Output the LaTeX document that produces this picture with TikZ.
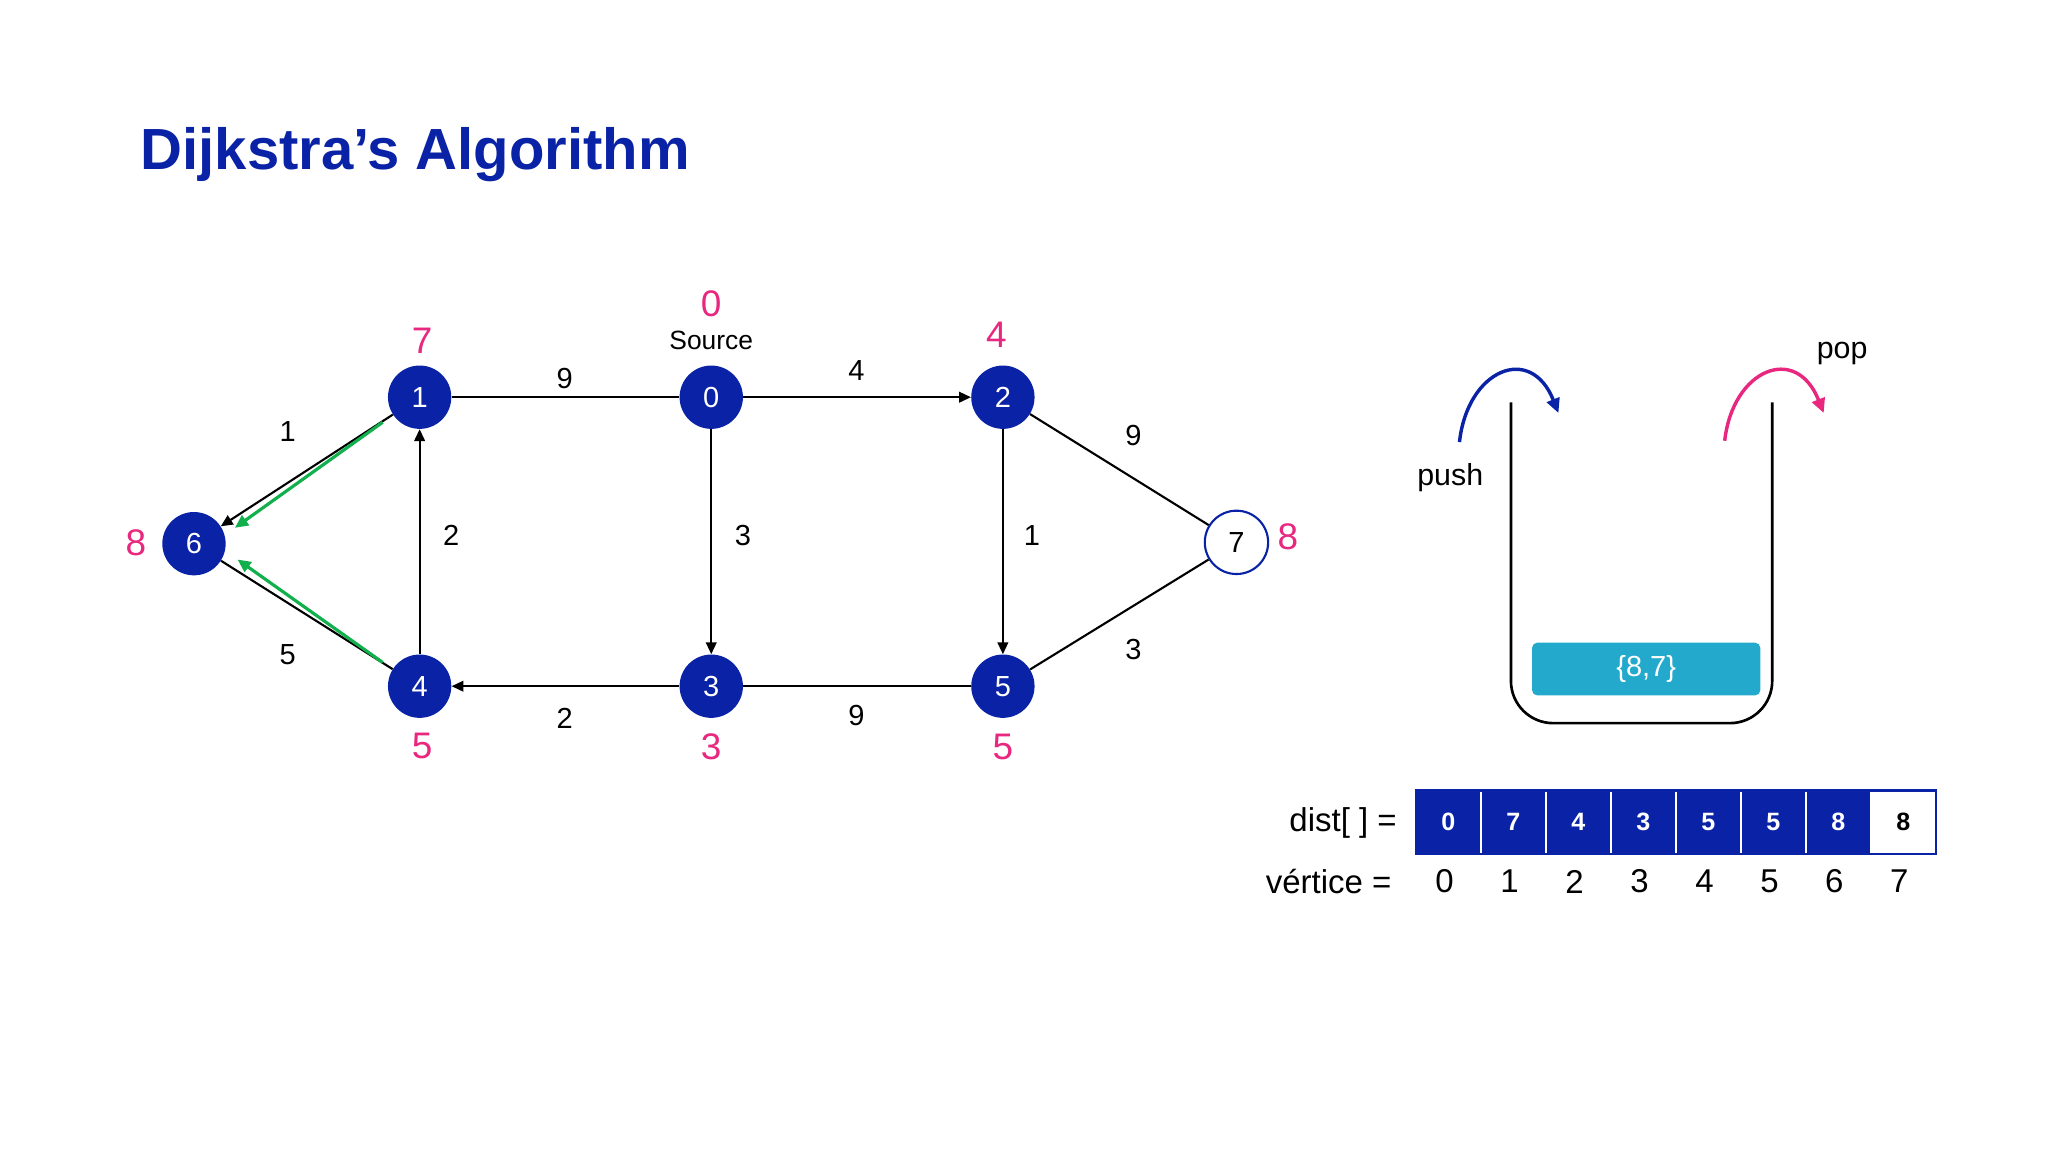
\documentclass[tikz,border=0pt]{standalone}
\usepackage{fontspec}
\setmainfont{Liberation Sans}
\usetikzlibrary{arrows.meta}
\definecolor{nblue}{HTML}{0A23A6}
\definecolor{npink}{HTML}{E8277E}
\definecolor{ngreen}{HTML}{12B04C}
\definecolor{ncyan}{HTML}{22A9CC}
\begin{document}
\begin{tikzpicture}[x=1pt,y=-1pt,
  vtx/.style={circle,fill=nblue,text=white,minimum size=48pt,inner sep=0pt,font=\fontsize{22}{24}\selectfont},
  edge/.style={line width=1.6pt},
  arr/.style={edge,-{Triangle[length=9pt,width=8pt]}},
  wt/.style={font=\fontsize{22}{24}\selectfont},
  dst/.style={text=npink,font=\fontsize{28}{30}\selectfont},
  cell/.style={fill=nblue,text=white,minimum width=49.25pt,minimum height=48pt,inner sep=0pt,draw=white,line width=1pt,font=\bfseries\fontsize{19}{20}\selectfont}]
\useasboundingbox (0,0) rectangle (1552,873);
\node[anchor=west,text=nblue,font=\bfseries\fontsize{44}{46}\selectfont] (title) at (103,117) {Dijkstra's Algorithm};
\node[vtx] (v1) at (318,301) {1};
\node[vtx] (v0) at (539,301) {0};
\node[vtx] (v2) at (760,301) {2};
\node[vtx] (v6) at (147,412) {6};
\node[vtx] (v4) at (318,520) {4};
\node[vtx] (v3) at (539,520) {3};
\node[vtx] (v5) at (760,520) {5};
\node[vtx,fill=white,text=black,draw=nblue,line width=1.6pt] (v7) at (937,411) {7};
\draw[edge] (v1) -- (v0);
\draw[arr] (v0) -- (v2);
\draw[edge] (v2) -- (v7);
\draw[arr] (v2) -- (v5);
\draw[arr] (v0) -- (v3);
\draw[edge] (v7) -- (v5);
\draw[edge] (v3) -- (v5);
\draw[arr] (v3) -- (v4);
\draw[arr] (v4) -- (v1);
\draw[arr] (v1) -- (v6);
\draw[edge] (v6) -- (v4);
\coordinate (g1a) at (290,320); \coordinate (g1b) at (178,400);
\coordinate (g2a) at (290,502); \coordinate (g2b) at (180,424);
\draw[ngreen,line width=2.4pt,-{Triangle[length=10pt,width=9pt]}] (g1a) -- (g1b);
\draw[ngreen,line width=2.4pt,-{Triangle[length=10pt,width=9pt]}] (g2a) -- (g2b);
\node[wt] (w1) at (428,287) {9};
\node[wt] (w2) at (649,281) {4};
\node[wt] (w3) at (859,330) {9};
\node[wt] (w4) at (218,327) {1};
\node[wt] (w5) at (342,406) {2};
\node[wt] (w6) at (563,406) {3};
\node[wt] (w7) at (782,406) {1};
\node[wt] (w8) at (218,496) {5};
\node[wt] (w9) at (428,544) {2};
\node[wt] (w10) at (649,542) {9};
\node[wt] (w11) at (859,492) {3};
\node[dst] (d1) at (320,258) {7};
\node[dst] (d0) at (539,230) {0};
\node[font=\fontsize{20}{22}\selectfont] (src) at (539,258) {Source};
\node[dst] (d2) at (755,254) {4};
\node[dst] (d6) at (103,411) {8};
\node[dst] (d7) at (976,407) {8};
\node[dst] (d4) at (320,565) {5};
\node[dst] (d3) at (539,566) {3};
\node[dst] (d5) at (760,566) {5};
% bucket
\draw[line width=2pt,rounded corners=32pt] (1145,305) -- (1145,548) -- (1343,548) -- (1343,305);
\node[fill=ncyan,rounded corners=4pt,minimum width=173pt,minimum height=40pt,text=white,font=\fontsize{22}{24}\selectfont] (item) at (1247.5,507) {\{8,7\}};
\draw[nblue,line width=2.6pt,-{Triangle[length=11pt,width=10pt]}] (1106,335) .. controls (1112,280) and (1160,260) .. (1181,313);
\draw[npink,line width=2.6pt,-{Triangle[length=11pt,width=10pt]}] (1307,334) .. controls (1313,280) and (1361,260) .. (1382,313);
\node[font=\fontsize{23}{25}\selectfont] (push) at (1099,362) {push};
\node[font=\fontsize{23}{25}\selectfont] (pop) at (1396,268) {pop};
% array
\foreach \v [count=\i from 0] in {0,7,4,3,5,5,8} {
  \node[cell] (c\i) at ({1073+49.25*(\i+0.5)},623) {\v};
}
\node[cell,fill=white,text=black] (c7) at ({1073+49.25*7.5},623) {8};
\draw[nblue,line width=1.6pt] (1073,599) rectangle (1467,647);
\node[anchor=east,font=\fontsize{25}{27}\selectfont] (dl) at (1062,624) {dist[ ] =};
\node[anchor=east,font=\fontsize{25}{27}\selectfont] (vl) at (1058,668) {vértice =};
\foreach \v [count=\i from 0] in {0,1,2,3,4,5,6,7} {
  \node[font=\fontsize{25}{27}\selectfont] (n\i) at ({1073+49.25*(\i+0.5)-3},668) {\v};
}
\end{tikzpicture}
\end{document}
